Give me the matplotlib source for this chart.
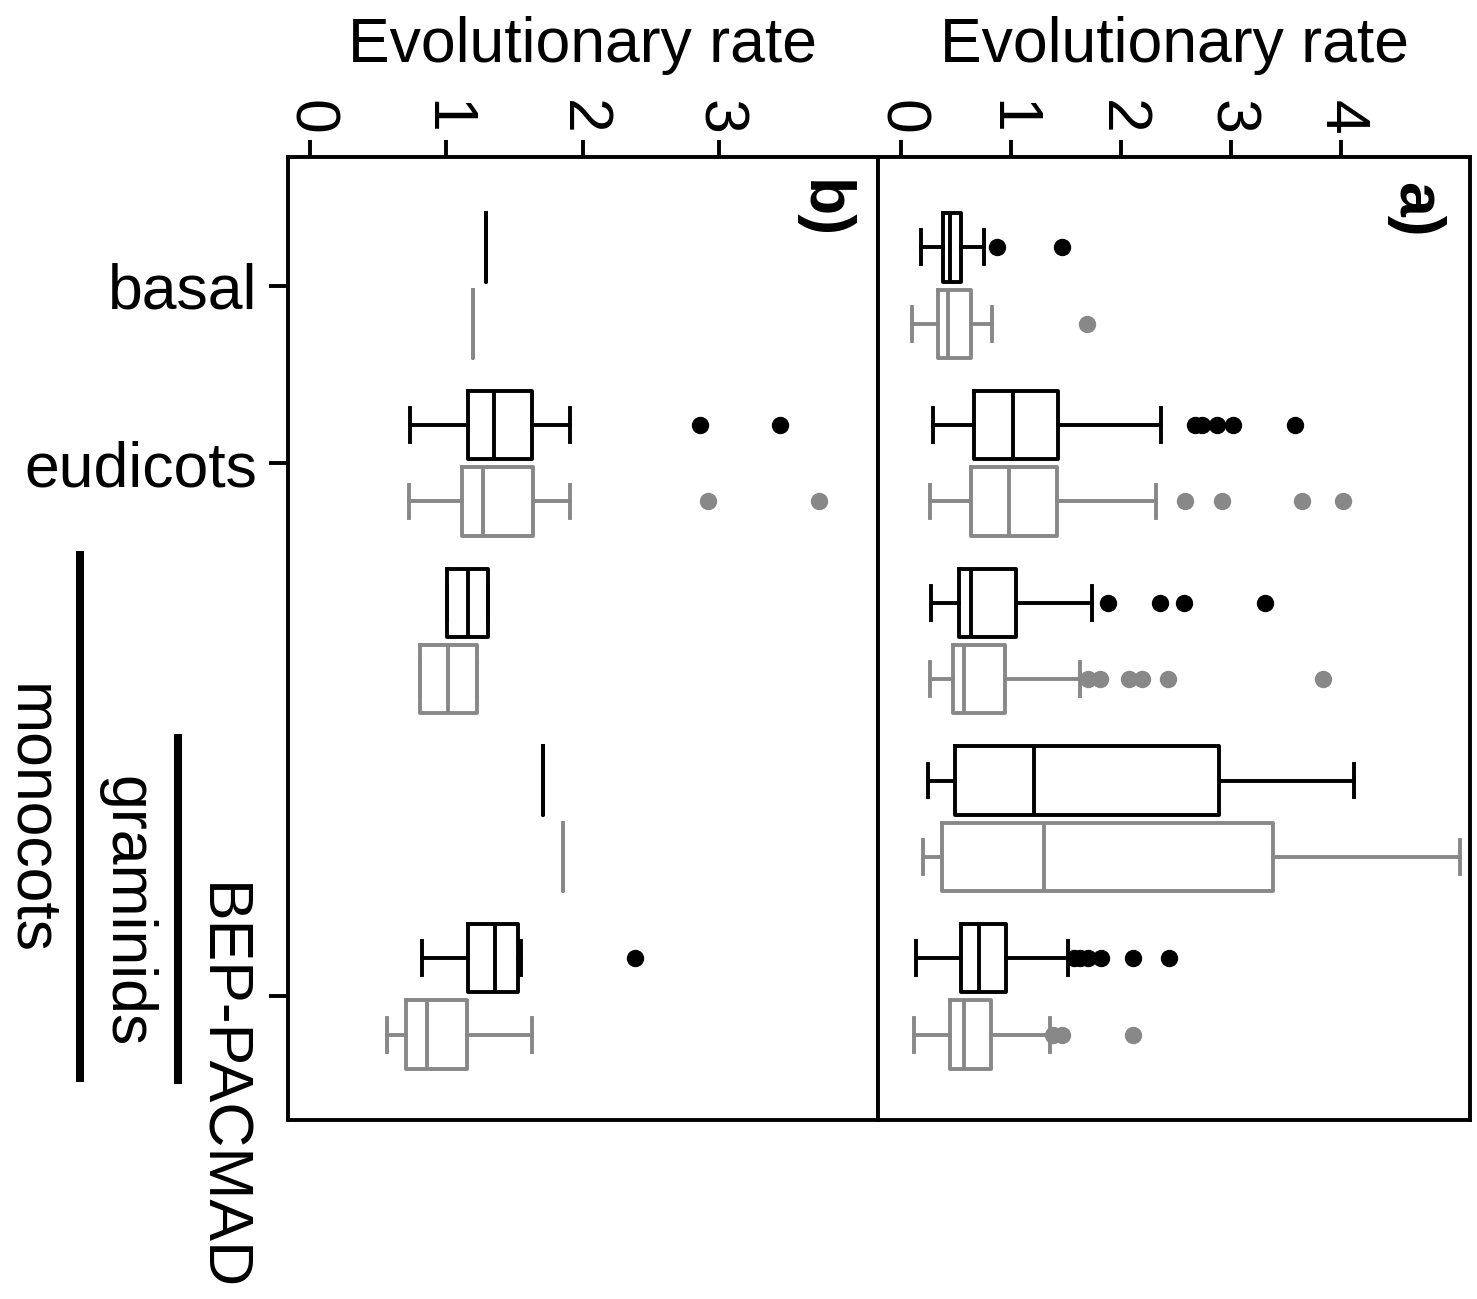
import matplotlib.pyplot as plt
from matplotlib.lines import Line2D

plt.rcParams['font.family'] = ['Liberation Sans', 'DejaVu Sans']

groups = ['basal', 'eudicots', 'monocots', 'graminids', 'BEP-PACMAD']
ticked = ['basal', 'eudicots', 'BEP-PACMAD']

# five-number summaries (whislo, q1, med, q3, whishi), one row per group
a_dark_stats = [
    (0.18, 0.38, 0.445, 0.545, 0.755),
    (0.29, 0.66, 1.015, 1.425, 2.36),
    (0.27, 0.53, 0.64, 1.045, 1.74),
    (0.25, 0.49, 1.21, 2.89, 4.12),
    (0.14, 0.55, 0.71, 0.955, 1.52),
]
a_dark_out = [[0.87, 1.46], [2.67, 2.74, 2.87, 3.02, 3.58],
              [1.885, 2.355, 2.57, 3.31], [], [1.57, 1.63, 1.70, 1.82, 2.11, 2.44]]
a_grey_stats = [
    (0.10, 0.34, 0.425, 0.635, 0.83),
    (0.26, 0.64, 0.98, 1.415, 2.32),
    (0.26, 0.47, 0.575, 0.945, 1.63),
    (0.20, 0.37, 1.30, 3.38, 5.08),
    (0.12, 0.445, 0.57, 0.815, 1.355),
]
a_grey_out = [[1.69], [2.58, 2.92, 3.65, 4.02],
              [1.70, 1.81, 2.07, 2.19, 2.43, 3.84], [], [1.385, 1.46, 2.11]]

b_dark_stats = [
    (1.29, 1.29, 1.29, 1.29, 1.29),
    (0.736, 1.163, 1.354, 1.628, 1.908),
    (1.01, 1.01, 1.159, 1.31, 1.31),
    (1.71, 1.71, 1.71, 1.71, 1.71),
    (0.826, 1.159, 1.359, 1.525, 1.55),
]
b_dark_out = [[], [2.86, 3.45], [], [], [2.385]]
b_grey_stats = [
    (1.20, 1.20, 1.20, 1.20, 1.20),
    (0.73, 1.12, 1.273, 1.64, 1.91),
    (0.81, 0.81, 1.017, 1.225, 1.225),
    (1.86, 1.86, 1.86, 1.86, 1.86),
    (0.566, 0.705, 0.859, 1.152, 1.628),
]
b_grey_out = [[], [2.92, 3.73], [], [], []]

DARK = 'black'
GREY = '#888888'
LW = 2.8
FS = 45


def draw(ax, stats, outs, pos, color):
    bx = [dict(whislo=s[0], q1=s[1], med=s[2], q3=s[3], whishi=s[4], fliers=f)
          for s, f in zip(stats, outs)]
    ax.bxp(bx, positions=pos, widths=0.385, capwidths=0.19,
           orientation='horizontal', manage_ticks=False,
           boxprops=dict(color=color, lw=LW),
           whiskerprops=dict(color=color, lw=LW, linestyle='-'),
           capprops=dict(color=color, lw=LW),
           medianprops=dict(color=color, lw=LW),
           flierprops=dict(marker='o', markerfacecolor=color, markeredgecolor=color,
                           markersize=11.5, linestyle='none'))


fig = plt.figure(figsize=(14.77, 12.99), dpi=100)
bottom, height = 1 - 1120 / 1299, (1120 - 157) / 1299
ax_b = fig.add_axes([288 / 1477, bottom, 590 / 1477, height])
ax_a = fig.add_axes([878 / 1477, bottom, 592 / 1477, height])

centers = list(range(1, len(groups) + 1))
dark_pos = [c - 0.215 for c in centers]
grey_pos = [c + 0.215 for c in centers]

draw(ax_b, b_dark_stats, b_dark_out, dark_pos, DARK)
draw(ax_b, b_grey_stats, b_grey_out, grey_pos, GREY)
draw(ax_a, a_dark_stats, a_dark_out, dark_pos, DARK)
draw(ax_a, a_grey_stats, a_grey_out, grey_pos, GREY)

ax_b.set_xlim(-0.158, 4.165)
ax_b.set_xticks([0, 1, 2, 3])
ax_a.set_xlim(-0.209, 5.173)
ax_a.set_xticks([0, 1, 2, 3, 4])

for ax in (ax_b, ax_a):
    ax.set_ylim(5.695, 0.277)
    ax.xaxis.tick_top()
    ax.xaxis.set_label_position('top')
    ax.tick_params(axis='x', labelrotation=-90, length=12, width=LW, labelsize=FS, pad=4)
    ax.set_xlabel('Evolutionary rate', fontsize=FS, labelpad=27)
    for sp in ax.spines.values():
        sp.set_linewidth(LW)

ax_a.set_yticks([])
ax_b.set_yticks([centers[groups.index(g)] for g in ticked])
ax_b.set_yticklabels([g if g != 'BEP-PACMAD' else '' for g in ticked])
ax_b.tick_params(axis='y', length=14, width=LW, labelsize=FS, pad=8)

ax_b.text(0.905, 0.945, 'b)', transform=ax_b.transAxes, rotation=-90,
          fontsize=FS, fontweight='bold', ha='center', va='center')
ax_a.text(0.907, 0.945, 'a)', transform=ax_a.transAxes, rotation=-90,
          fontsize=FS, fontweight='bold', ha='center', va='center')

# hierarchical labels for monocot groups
fig.text(30 / 1477, 1 - 820 / 1299, 'monocots', rotation=-90, fontsize=FS,
         ha='center', va='center')
fig.text(126 / 1477, 1 - 912 / 1299, 'graminids', rotation=-90, fontsize=FS,
         ha='center', va='center')
fig.text(220 / 1477, 1 - 1087 / 1299, 'BEP-PACMAD', rotation=-90, fontsize=FS,
         ha='center', va='center')
fig.add_artist(Line2D([80 / 1477, 80 / 1477], [1 - 555 / 1299, 1 - 1078 / 1299],
                      color='black', lw=5.8, transform=fig.transFigure))
fig.add_artist(Line2D([178 / 1477, 178 / 1477], [1 - 738 / 1299, 1 - 1080 / 1299],
                      color='black', lw=5.8, transform=fig.transFigure))

fig.savefig('out.png', dpi=100)
